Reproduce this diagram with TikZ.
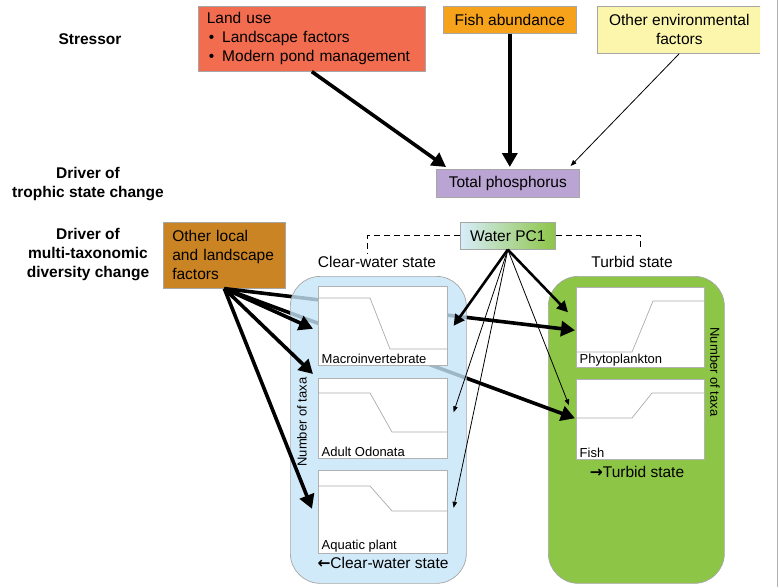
\documentclass[tikz,border=0pt]{standalone}
\usepackage{fontspec}
\setmainfont{Liberation Sans}
\newfontfamily\arrowfont{DejaVu Sans}
\usetikzlibrary{calc}
\usetikzlibrary{arrows.meta}

\definecolor{landuse}{RGB}{242,108,79}
\definecolor{fishab}{RGB}{246,162,27}
\definecolor{otherenv}{RGB}{251,246,172}
\definecolor{tpcol}{RGB}{186,164,211}
\definecolor{otherlocal}{RGB}{203,132,36}
\definecolor{clearcol}{RGB}{198,229,248}
\definecolor{turbidcol}{RGB}{141,197,71}

\tikzset{
  every node/.style={font=\fontsize{15.5}{19}\selectfont},
  box/.style={draw=gray!70, line width=0.6pt, inner sep=0pt, anchor=north west},
  statebox/.style={draw=gray!70, line width=0.7pt, rounded corners=30pt, anchor=north west,
                   minimum width=176pt, minimum height=307pt},
  panel/.style={draw=gray!60, fill=white, line width=0.6pt, anchor=north west, inner sep=0pt,
                minimum width=128pt},
  paneltext/.style={font=\fontsize{13}{15}\selectfont, anchor=south west, inner sep=1.5pt},
  curve/.style={draw=gray!65, line width=0.7pt},
  link/.style={line width=1pt, dash pattern=on 6pt off 4pt},
  heavyarrow/.style={line width=3.6pt, -{Triangle[length=14pt,width=15pt]}},
  midarrow/.style={line width=2.6pt, -{Triangle[length=11pt,width=11pt]}},
  lightarrow/.style={line width=0.8pt, -{Triangle[length=6pt,width=4.5pt]}},
}

\begin{document}
\begin{tikzpicture}[x=1pt,y=-1pt]
  \useasboundingbox (0,0) rectangle (779,587);

  % level labels
  \node[font=\bfseries\fontsize{15.5}{19}\selectfont] (stressor) at (90,39) {Stressor};
  \node[font=\bfseries\fontsize{15.5}{19}\selectfont, align=center] (trophic) at (88,184)
    {Driver of\\trophic state change};
  \node[font=\bfseries\fontsize{15.5}{19}\selectfont, align=center] (diversity) at (88,255)
    {Driver of\\multi-taxonomic\\diversity change};

  % stressors
  \node[box, fill=landuse, minimum width=227pt, minimum height=65pt, text width=210pt, align=left]
    (landuse) at (198,6)
    {Land use\\\hspace*{2pt}\textbullet\hspace{8pt}Landscape factors\\\hspace*{2pt}\textbullet\hspace{8pt}Modern pond management};
  \node[box, fill=fishab, minimum width=133pt, minimum height=27pt] (fishab) at (443,6) {Fish abundance};
  \begin{scope}
    \clip (0,0) rectangle (760,587);
    \node[box, fill=otherenv, minimum width=164pt, minimum height=47pt, align=center]
      (otherenv) at (597,6) {Other environmental\\factors};
  \end{scope}

  % drivers
  \node[box, fill=tpcol, minimum width=143pt, minimum height=28pt] (tp) at (436,169) {Total phosphorus};
  \node[box, fill=otherlocal, minimum width=122pt, minimum height=66pt, text width=104pt, align=left]
    (otherlocal) at (163,222) {Other local\\and landscape\\factors};
  \node[box, left color=clearcol!70!white, middle color=white!85!turbidcol, right color=turbidcol,
        minimum width=95pt, minimum height=27pt] (pc1) at (460,222) {Water PC1};

  \draw[heavyarrow] (landuse.south) -- ($(tp.north west)+(10,-2)$);
  \draw[heavyarrow, shorten >=2pt] (fishab.south) -- (fishab.south |- tp.north);
  \draw[lightarrow] (otherenv.south) -- ($(tp.north east)+(-9,-3)$);

  % state labels and dashed link
  \node (clearlab) at (377,262) {Clear-water state};
  \node (turbidlab) at (632,262) {Turbid state};
  \coordinate (cleartip) at (367,253);
  \coordinate (turbidtip) at (640,251);
  \draw[link] (pc1.west) -| (cleartip);
  \draw[link] (pc1.east) -| (turbidtip);

  % turbid state
  \node[statebox, fill=turbidcol] (turbidbox) at (548,276) {};
  \foreach \name/\px/\py/\lab in {phyto/576/287/Phytoplankton, fish/576/379/Fish}
  {
    \node[panel, minimum height=80pt] (\name) at (\px,\py) {};
    \node[paneltext] (\name-lab) at ($(\name.south west)+(2,0)$) {\lab};
  }
  \foreach \name/\a/\b/\c in {phyto/65/14/77, fish/39/14/76}
    \draw[curve] ($(\name.north west)+(0,\a)$) -- ++(56,0) -- ($(\name.north west)+(\c,\b)$)
      -- ($(\name.north east)+(0,\b)$);
  \node[font=\fontsize{13}{15}\selectfont, rotate=-90] (turbidtaxa) at (715,372) {Number of taxa};
  \node (turbidstate) at (637,472) {{\arrowfont\bfseries →}Turbid state};

  % long arrows, seen through the clear-water box
  \draw[heavyarrow] (otherlocal.south) -- ($(phyto.west)+(-1,3)$);
  \draw[heavyarrow] (otherlocal.south) -- ($(fish.west)+(-1,-1)$);

  % clear-water state
  \node[statebox, fill=clearcol, fill opacity=0.8] (clearbox) at (290,276) {};
  \foreach \name/\py/\h/\lab in {macro/286/79/Macroinvertebrate, odonata/378/80/Adult Odonata,
                                 aquatic/470/83/Aquatic plant}
  {
    \node[panel, minimum height=\h pt, minimum width=129pt] (\name) at (318,\py) {};
    \node[paneltext] (\name-lab) at ($(\name.south west)+(2,0)$) {\lab};
  }
  \foreach \name/\a/\b/\c in {macro/12/63/72, odonata/15/54/74, aquatic/16/41/74}
    \draw[curve] ($(\name.north west)+(0,\a)$) -- ++(52,0) -- ($(\name.north west)+(\c,\b)$)
      -- ($(\name.north east)+(0,\b)$);
  \node[font=\fontsize{13}{15}\selectfont, rotate=90] (cleartaxa) at (302,422) {Number of taxa};
  \node (clearstate) at (383,563) {{\arrowfont\bfseries ←}Clear-water state};

  % other local and landscape factors
  \draw[heavyarrow] (otherlocal.south) -- ($(macro.west)+(-5,3)$);
  \draw[heavyarrow] (otherlocal.south) -- ($(odonata.north west)+(-5,-4)$);
  \draw[heavyarrow] (otherlocal.south) -- ($(aquatic.west)+(-6,-3)$);

  % water PC1
  \draw[midarrow] (pc1.south) -- ($(macro.east)+(6,0)$);
  \draw[midarrow] (pc1.south) -- ($(phyto.west)+(-8,-15)$);
  \foreach \tgt/\dx/\dy in {odonata.east/6/-6, aquatic.east/6/-4, fish.west/-7/-14}
    \draw[lightarrow] (pc1.south) -- ($(\tgt)+(\dx,\dy)$);

  \draw[gray!60, line width=0.8pt] (777,0) -- (777,587);
\end{tikzpicture}
\end{document}
